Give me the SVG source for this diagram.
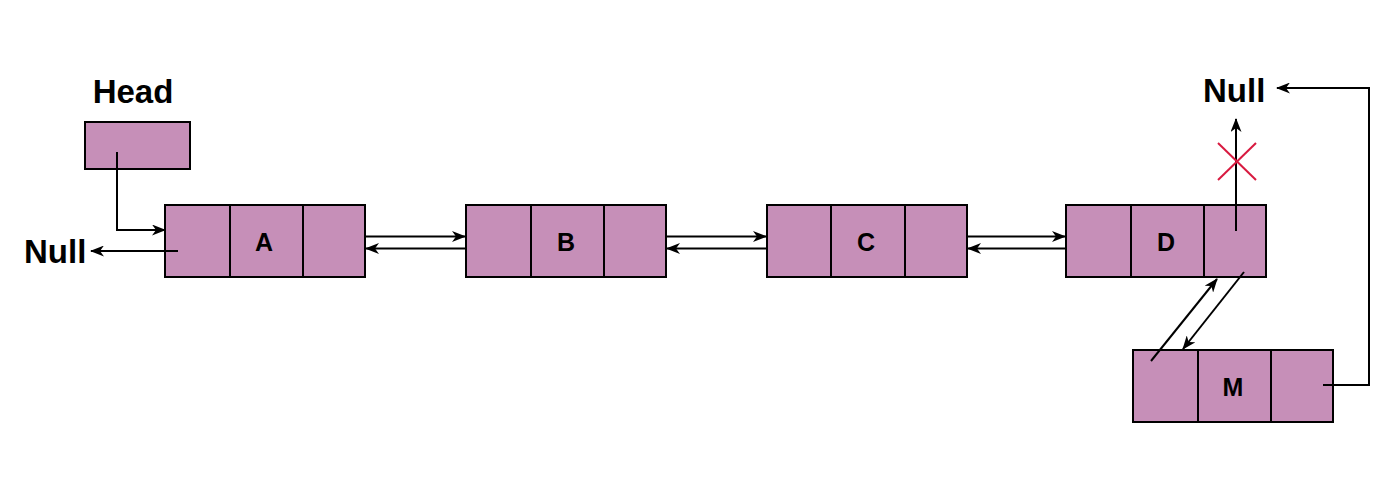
<svg xmlns="http://www.w3.org/2000/svg" width="1400" height="500" viewBox="0 0 1400 500">
<style>
.cell{fill:#C68FB8;stroke:#000;stroke-width:2}
.lbl{font-family:"Liberation Sans",Arial,sans-serif;font-weight:bold;font-size:25px;text-anchor:middle;fill:#000}
.big{font-family:"Liberation Sans",Arial,sans-serif;font-weight:bold;font-size:33px;fill:#000}
.ln{fill:none;stroke:#000;stroke-width:2}
</style>
<defs>
<marker id="ah" viewBox="0 0 14 11" refX="13" refY="5.5" markerWidth="14" markerHeight="11" markerUnits="userSpaceOnUse" orient="auto">
<path d="M0,0 L14,5.5 L0,11 L4,5.5 Z" fill="#000"/>
</marker>
</defs>
<rect width="1400" height="500" fill="#fff"/>
<g id="head">
<text class="big" x="133" y="103" text-anchor="middle">Head</text>
<rect class="cell" x="85" y="122" width="105" height="47"/>
</g>
<g id="nodeA">
<rect class="cell" x="165" y="205" width="65" height="72"/>
<rect class="cell" x="230" y="205" width="73" height="72"/>
<rect class="cell" x="303" y="205" width="62" height="72"/>
<text class="lbl" x="264" y="251">A</text>
</g>
<g id="nodeB">
<rect class="cell" x="466" y="205" width="65" height="72"/>
<rect class="cell" x="531" y="205" width="73" height="72"/>
<rect class="cell" x="604" y="205" width="62" height="72"/>
<text class="lbl" x="566" y="251">B</text>
</g>
<g id="nodeC">
<rect class="cell" x="767" y="205" width="64" height="72"/>
<rect class="cell" x="831" y="205" width="74" height="72"/>
<rect class="cell" x="905" y="205" width="62" height="72"/>
<text class="lbl" x="866" y="251">C</text>
</g>
<g id="nodeD">
<rect class="cell" x="1066" y="205" width="65" height="72"/>
<rect class="cell" x="1131" y="205" width="73" height="72"/>
<rect class="cell" x="1204" y="205" width="62" height="72"/>
<text class="lbl" x="1166" y="251">D</text>
</g>
<g id="nodeM">
<rect class="cell" x="1133" y="350" width="65" height="72"/>
<rect class="cell" x="1198" y="350" width="73" height="72"/>
<rect class="cell" x="1271" y="350" width="62" height="72"/>
<text class="lbl" x="1233" y="396">M</text>
</g>
<g id="nullLeft">
<text class="big" x="24" y="263">Null</text>
</g>
<g id="nullRight">
<text class="big" x="1203" y="102">Null</text>
</g>
<g id="connectors">
<path class="ln" d="M117,152 V230 H165" marker-end="url(#ah)"/>
<path class="ln" d="M178,251 H91" marker-end="url(#ah)"/>
<path class="ln" d="M365,236.5 H465" marker-end="url(#ah)"/>
<path class="ln" d="M466,248.5 H366" marker-end="url(#ah)"/>
<path class="ln" d="M666,236.5 H766" marker-end="url(#ah)"/>
<path class="ln" d="M767,248.5 H667" marker-end="url(#ah)"/>
<path class="ln" d="M967,236.5 H1065" marker-end="url(#ah)"/>
<path class="ln" d="M1066,248.5 H968" marker-end="url(#ah)"/>
<path class="ln" d="M1236,231 V119" marker-end="url(#ah)"/>
<path class="ln" d="M1151,361 L1217,279" marker-end="url(#ah)"/>
<path class="ln" d="M1244,272 L1183,349" marker-end="url(#ah)"/>
<path class="ln" d="M1323,385 H1369 V88 H1277" marker-end="url(#ah)"/>
</g>
<g id="cross" stroke="#D8193F" stroke-width="2">
<line x1="1218" y1="143" x2="1256" y2="180"/>
<line x1="1256" y1="143" x2="1218" y2="180"/>
</g>
</svg>
